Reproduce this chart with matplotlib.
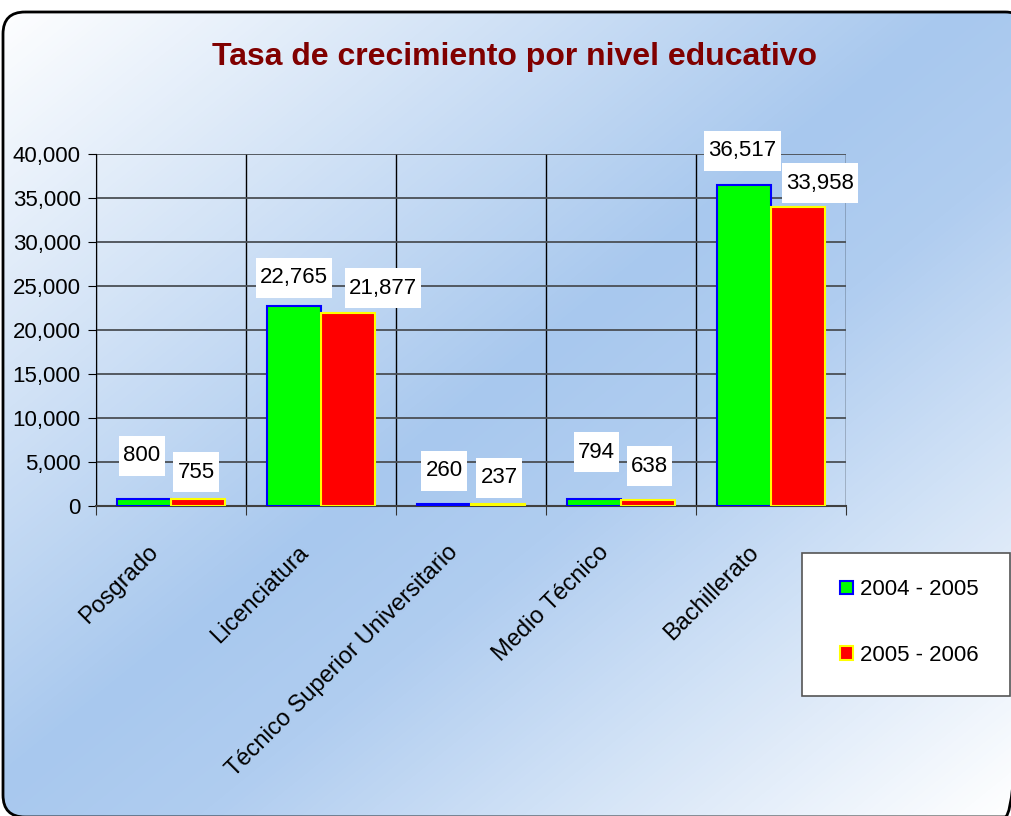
import numpy as np
import matplotlib.pyplot as plt
from matplotlib.patches import FancyBboxPatch, Rectangle
from matplotlib.colors import LinearSegmentedColormap
from matplotlib.path import Path
from matplotlib.transforms import ScaledTranslation

plt.rcParams['font.family'] = ['Liberation Sans', 'DejaVu Sans']

categories = ['Posgrado', 'Licenciatura', 'Técnico Superior Universitario', 'Medio Técnico', 'Bachillerato']
serie_2004 = [800, 22765, 260, 794, 36517]
serie_2005 = [755, 21877, 237, 638, 33958]
series_names = ['2004 - 2005', '2005 - 2006']

# label placement (pixels): horizontal shift, gap between bar top and box
offsets_2004 = [(-2, 21), (0, 6), (0, 11), (2, 25), (-1.5, 12)]
offsets_2005 = [(-2, 5), (35, 3), (1, 4), (1.5, 12), (22, 2)]

W, H = 1011, 816
fig = plt.figure(figsize=(W / 100, H / 100), dpi=100)

# background gradient with rounded border
bg = fig.add_axes([0, 0, 1, 1], zorder=-10)
bg.set_xlim(0, W)
bg.set_ylim(H, 0)
bg.axis('off')
yy, xx = np.mgrid[0:H, 0:W]
t = (xx / W + yy / H) / 2
cmap = LinearSegmentedColormap.from_list('bg', [(0, '#ffffff'), (0.48, '#a8c8ee'), (0.6, '#b0cdf0'), (1, '#ffffff')])
img = bg.imshow(t, cmap=cmap, extent=(0, W, H, 0), vmin=0, vmax=1, aspect='auto')
frame = FancyBboxPatch((3, 12), 1024, 805, boxstyle='round,pad=0,rounding_size=22',
                       fc='none', ec='black', lw=2, clip_on=False)
bg.add_patch(frame)
img.set_clip_path(frame)

ax = fig.add_axes([96 / W, 1 - 506 / H, 750 / W, 352 / H])
ax.patch.set_alpha(0)

x = np.arange(len(categories))
w = 0.36
b1 = ax.bar(x - w / 2, serie_2004, width=w, color='#00ff00', edgecolor='#0000ff', lw=1.5, zorder=3,
            label=series_names[0])
b2 = ax.bar(x + w / 2, serie_2005, width=w, color='#ff0000', edgecolor='#ffff00', lw=1.5, zorder=3,
            label=series_names[1])


def label_box(x0, y0, width, height, mutation_size):
    px, py = 4, 9.5
    return Path([(x0 - px, y0 - py), (x0 + width + px, y0 - py), (x0 + width + px, y0 + height + py),
                 (x0 - px, y0 + height + py), (x0 - px, y0 - py)], closed=True)


for bars, vals, offs in [(b1, serie_2004, offsets_2004), (b2, serie_2005, offsets_2005)]:
    for r, v, (dx, gap) in zip(bars, vals, offs):
        ax.annotate(f'{v:,}', (r.get_x() + r.get_width() / 2, v),
                    xytext=(dx * 0.72, (gap + 22) * 0.72), textcoords='offset points',
                    ha='center', va='center', fontsize=16, zorder=5, annotation_clip=False,
                    bbox=dict(boxstyle=label_box, fc='white', ec='none'))

ax.set_xlim(-0.5, len(categories) - 0.5)
ax.set_ylim(0, 40000)
ax.set_yticks(np.arange(0, 40001, 5000))
ax.set_yticklabels([f'{v:,}' for v in range(0, 40001, 5000)], fontsize=16)
ax.yaxis.grid(True, color='#4a4f55', lw=1.3, zorder=0)

ax.set_xticks(np.arange(-0.5, len(categories)))
ax.set_xticklabels([])
ax.set_xticks(x, minor=True)
ax.set_xticklabels(categories, minor=True, rotation=45, ha='right', va='center',
                   rotation_mode='anchor', fontsize=17)
ax.tick_params(axis='x', which='minor', length=0, pad=31)
shift = ScaledTranslation(-0.16, 0, fig.dpi_scale_trans)
for lab in ax.get_xticklabels(minor=True):
    lab.set_transform(lab.get_transform() + shift)
ax.tick_params(axis='x', which='major', length=6.5, color='#333333')
ax.tick_params(axis='y', length=6, pad=5, color='black')
ax.xaxis.grid(True, which='major', color='black', lw=1, zorder=0)
for s in ['top', 'right']:
    ax.spines[s].set_visible(False)
ax.spines['left'].set_color('black')
ax.spines['bottom'].set_color('#404040')
ax.spines['bottom'].set_linewidth(1.5)

fig.text(515 / W, 1 - 57 / H, 'Tasa de crecimiento por nivel educativo', ha='center', va='center',
         fontsize=23, fontweight='bold', color='#800000')

# legend frame
bg.add_patch(Rectangle((802, 553), 208, 143, fc='white', ec='#555555', lw=1.2, zorder=2))
leg = fig.legend(handles=[b1, b2], loc='center left', bbox_to_anchor=(840 / W, 1 - 622.5 / H),
                 frameon=False, fontsize=16, labelspacing=2.0, borderpad=0, borderaxespad=0,
                 handlelength=0.58, handleheight=0.58, handletextpad=0.3)

fig.savefig('out.png', dpi=100)
